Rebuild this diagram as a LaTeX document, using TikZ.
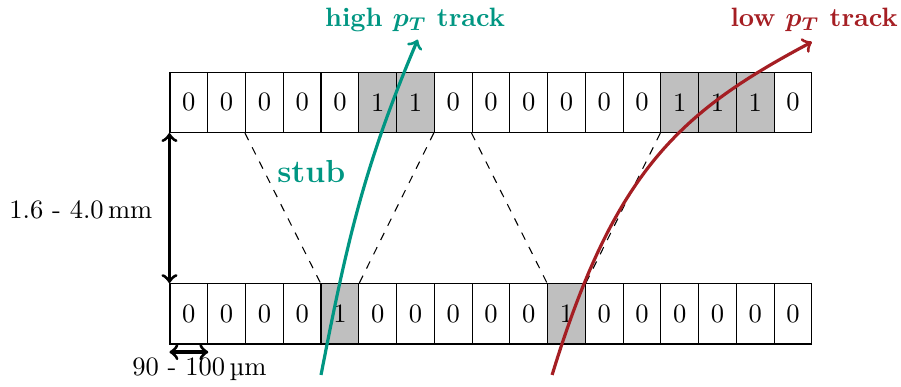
\documentclass[tikz,border=0pt]{standalone}
\usepackage{amsmath}
\usepackage{fontspec}
\usepackage{tikz}

\definecolor{hicol}{RGB}{0,150,130}
\definecolor{locol}{RGB}{165,30,35}

\begin{document}
\begin{tikzpicture}
\tikzset{
	pix/.style={rectangle, draw=black, minimum width=0.5cm, minimum height=0.8cm, inner sep=0pt},
	hit/.style={pix, fill=gray!50}
}
\useasboundingbox (-2.251,-0.569) rectangle (9.68,4.555);

% top layer
\node[pix] (t_1) at(0.25,3.2) {0};
\node[pix] (t_2) at(0.75,3.2) {0};
\node[pix] (t_3) at(1.25,3.2) {0};
\node[pix] (t_4) at(1.75,3.2) {0};
\node[pix] (t_5) at(2.25,3.2) {0};
\node[hit] (t_6) at(2.75,3.2) {1};
\node[hit] (t_7) at(3.25,3.2) {1};
\node[pix] (t_8) at(3.75,3.2) {0};
\node[pix] (t_9) at(4.25,3.2) {0};
\node[pix] (t_10) at(4.75,3.2) {0};
\node[pix] (t_11) at(5.25,3.2) {0};
\node[pix] (t_12) at(5.75,3.2) {0};
\node[pix] (t_13) at(6.25,3.2) {0};
\node[hit] (t_14) at(6.75,3.2) {1};
\node[hit] (t_15) at(7.25,3.2) {1};
\node[hit] (t_16) at(7.75,3.2) {1};
\node[pix] (t_17) at(8.25,3.2) {0};

% bottom layer
\node[pix] (b_1) at(0.25,0.4) {0};
\node[pix] (b_2) at(0.75,0.4) {0};
\node[pix] (b_3) at(1.25,0.4) {0};
\node[pix] (b_4) at(1.75,0.4) {0};
\node[hit] (b_5) at(2.25,0.4) {1};
\node[pix] (b_6) at(2.75,0.4) {0};
\node[pix] (b_7) at(3.25,0.4) {0};
\node[pix] (b_8) at(3.75,0.4) {0};
\node[pix] (b_9) at(4.25,0.4) {0};
\node[pix] (b_10) at(4.75,0.4) {0};
\node[hit] (b_11) at(5.25,0.4) {1};
\node[pix] (b_12) at(5.75,0.4) {0};
\node[pix] (b_13) at(6.25,0.4) {0};
\node[pix] (b_14) at(6.75,0.4) {0};
\node[pix] (b_15) at(7.25,0.4) {0};
\node[pix] (b_16) at(7.75,0.4) {0};
\node[pix] (b_17) at(8.25,0.4) {0};

% stub windows
\draw [dashed] (t_3.south west) -- (b_5.north west);
\draw [dashed] (t_8.south west) -- (b_5.north east);
\draw [dashed] (t_9.south west) -- (b_11.north west);
\draw [dashed] (t_14.south west) -- (b_11.north east);

% dimensions
\draw[very thick,<->] (t_1.south west) -- (b_1.north west);
\node (gap) at (-1.18,1.78) {1.6 - 4.0\,mm};
\draw[very thick,<->] ([yshift=-0.1cm]b_1.south west) -- ([yshift=-0.1cm]b_1.south east);
\node (pitch) at (0.39,-0.33) {90 - 100\,µm};

% tracks
\coordinate (hi_s) at (2.0,-0.41);
\coordinate (hi_e) at (3.28,4.03);
\coordinate (lo_s) at (5.06,-0.41);
\coordinate (lo_e) at (8.50,4.00);
\draw[->, hicol, very thick] (hi_s) to[out=79, in=247] (hi_e);
\draw[->, locol, very thick] (lo_s) to[out=73, in=208, out looseness=1.3, in looseness=0.9] (lo_e);

% labels
\node at (3.245, 4.29) {\color{hicol}\textbf{high $\boldsymbol{p_T}$ track}};
\node at (8.53, 4.29) {\color{locol}\textbf{low $\boldsymbol{p_T}$ track}};
\node at (1.87, 2.28) {\color{hicol}\large\textbf{stub}};

\end{tikzpicture}
\end{document}
